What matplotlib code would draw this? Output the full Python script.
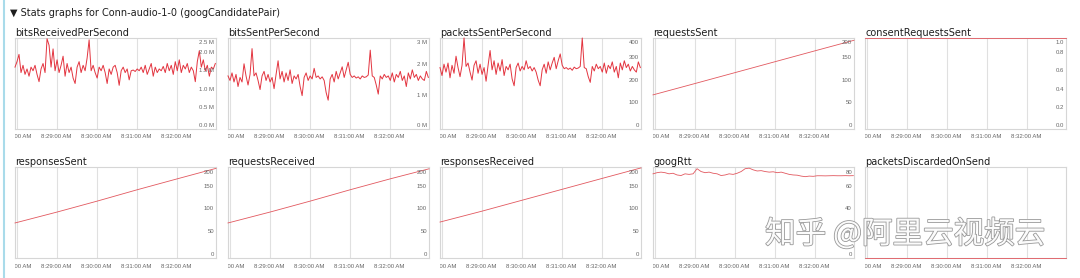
import matplotlib
matplotlib.use('Agg')
import matplotlib.pyplot as plt
import matplotlib.patheffects as pe
from matplotlib import transforms
from matplotlib.lines import Line2D

# x axis: seconds relative to 8:28:00 AM
tick_secs = [0, 60, 120, 180, 240]
tick_labels = ['8:28:00 AM', '8:29:00 AM', '8:30:00 AM', '8:31:00 AM', '8:32:00 AM']
t_start, t_end = -3, 298

# noisy series, one reading every 3 s starting at t_start
bits_received = [1.70, 1.85, 2.05, 1.55, 1.75, 1.50, 1.65, 1.45, 1.70, 1.60,
                 1.75, 1.50, 1.30, 1.65, 1.80, 1.55, 2.48, 2.30, 1.70, 2.20,
                 1.60, 1.90, 1.55, 1.75, 2.00, 1.45, 1.80, 1.55, 1.70, 1.40,
                 1.25, 1.70, 1.85, 1.55, 1.75, 1.60, 1.95, 2.45, 1.60, 1.75,
                 1.55, 1.40, 1.70, 1.60, 1.75, 1.55, 1.25, 1.65, 1.50, 1.70,
                 1.75, 1.55, 1.20, 1.60, 1.70, 1.55, 1.65, 1.35, 1.60, 1.62,
                 1.58, 1.65, 1.60, 1.70, 1.55, 1.75, 1.50, 1.65, 1.80, 1.45,
                 1.70, 1.55, 1.65, 1.60, 1.72, 1.55, 1.80, 1.60, 1.75, 1.50,
                 1.85, 1.60, 1.90, 1.55, 1.75, 1.65, 1.80, 1.55, 1.70, 1.60,
                 1.30, 1.85, 2.15, 1.70, 1.90, 1.60, 1.75, 1.45, 1.70, 1.65,
                 1.80]
bits_sent = [1.75, 1.60, 1.85, 1.55, 1.80, 1.40, 1.70, 1.55, 2.15, 1.75,
             1.45, 1.80, 2.65, 1.75, 1.85, 1.60, 1.30, 1.75, 1.90, 1.60,
             1.80, 1.55, 1.70, 1.33, 1.80, 2.25, 1.65, 1.90, 1.55, 1.85,
             1.60, 1.95, 1.50, 1.75, 1.65, 1.80, 1.40, 1.10, 1.70, 1.85,
             1.60, 1.75, 1.65, 2.00, 1.70, 1.75, 1.65, 1.72, 1.60, 1.20,
             0.95, 1.65, 1.80, 1.55, 1.90, 1.65, 1.85, 2.05, 1.70, 1.95,
             2.20, 1.80, 1.70, 1.75, 1.68, 1.72, 1.65, 1.75, 1.70, 1.72,
             1.78, 2.60, 1.75, 1.70, 1.45, 1.15, 1.75, 1.65, 1.80, 1.70,
             1.75, 1.60, 1.85, 1.55, 1.80, 1.70, 1.90, 1.60, 1.75, 1.40,
             1.85, 1.65, 1.95, 1.70, 1.80, 1.60, 1.75, 1.65, 1.60, 1.90,
             1.70]
packets_sent = [270, 235, 285, 250, 290, 225, 280, 245, 320, 270,
                230, 280, 400, 275, 290, 250, 215, 280, 300, 245,
                285, 240, 270, 210, 280, 345, 260, 300, 240, 290,
                255, 305, 235, 275, 260, 285, 220, 190, 270, 290,
                255, 275, 260, 300, 265, 275, 255, 270, 250, 215,
                190, 260, 285, 245, 295, 260, 290, 315, 265, 300,
                330, 280, 265, 270, 262, 268, 258, 272, 265, 268,
                275, 400, 270, 265, 230, 205, 275, 255, 285, 265,
                275, 250, 290, 245, 280, 265, 295, 250, 275, 225,
                290, 260, 300, 270, 285, 255, 275, 260, 250, 295,
                270]
# googRtt, one reading every 6 s starting at t_start
goog_rtt = [74, 75, 75.5, 75, 74, 74.5, 73, 72.5, 74, 73.5,
            74, 78.5, 76, 75, 75.5, 74.5, 74, 72.5, 73, 74,
            73.5, 74.5, 76, 78.5, 79, 77.5, 76.5, 76.8, 76, 75.5,
            75.8, 75, 75.5, 74.5, 73.5, 73, 72.8, 72, 71.5, 72,
            71.8, 72.3, 72.3, 72.2, 72.3, 72.4, 72.3, 72.3, 72.4, 72.3,
            72.4]

# counters, read at each minute line
counter_secs = [-3, 60, 120, 180, 240, 298]
requests_sent = [75, 100, 124, 148, 172, 195]
responses_sent = [77, 101, 125, 150, 174, 197]
requests_received = [77, 101, 125, 150, 174, 196]
responses_received = [79, 103, 127, 151, 175, 198]
consent_secs = [-3, 298]
consent_requests_sent = [1, 1]
packets_discarded = [0, 0]

RED = '#e3343f'
W, H = 1080, 278
fig = plt.figure(figsize=(10.8, 2.78), dpi=100)
fig.patch.set_facecolor('white')


def secs(n, step):
    return [t_start + step * i for i in range(n)]


def add_panel(left, top, title, times, values, ymax, yticks, ylabels, lw=0.7, color=RED):
    ax = fig.add_axes([left / W, 1 - (top + 91) / H, 201 / W, 91 / H])
    ax.plot(times, values, color=color, lw=lw, clip_on=False, zorder=3)
    ax.set_xlim(t_start, t_end)
    ax.set_ylim(0, ymax)
    ax.set_xticks(tick_secs)
    ax.set_xticklabels([])
    ax.set_yticks([])
    ax.tick_params(length=0)
    ax.grid(axis='x', color='#e0e0e0', lw=0.8)
    for s in ax.spines.values():
        s.set_color('#d6d6d6')
        s.set_linewidth(0.8)

    ax.text(0, 1, title, transform=transforms.offset_copy(ax.transAxes, fig=fig, y=2, units='dots'),
            ha='left', va='baseline', fontsize=7, color='#1e1e1e')

    # y labels sit inside the plot, the top one pushed down to fit
    for v, lab in zip(yticks, ylabels):
        frac = v / ymax
        if frac * 91 + 3.5 <= 86:
            tr = transforms.offset_copy(ax.transAxes, fig=fig, x=-2, y=3.5, units='dots')
            yy = frac
        else:
            tr = transforms.offset_copy(ax.transAxes, fig=fig, x=-2, y=-5, units='dots')
            yy = 1
        ax.text(1, yy, lab, transform=tr, ha='right', va='center', fontsize=4.3,
                family='Liberation Sans', color='#666666')

    # time labels, clipped at the plot's left and right edges
    bb = transforms.TransformedBbox(transforms.Bbox([[0, -0.3], [1, 1]]), ax.transAxes)
    trx = transforms.offset_copy(transforms.blended_transform_factory(ax.transData, ax.transAxes),
                                 fig=fig, x=-1, y=-8, units='dots')
    for t, lab in zip(tick_secs, tick_labels):
        txt = ax.text(t, 0, lab, transform=trx, ha='center', va='center', fontsize=4.3,
                      family='Liberation Sans', color='#666666')
        txt.set_clip_path(None)
        txt.set_clip_box(bb)
        txt.set_clip_on(True)
    return ax


lefts = [15, 228, 440, 653, 865]
tops = [38, 167]
cnt_ticks = [0, 50, 100, 150, 200]
cnt_labels = ['0', '50', '100', '150', '200']
THIN = dict(lw=0.6, color='#e2585f')

add_panel(lefts[0], tops[0], 'bitsReceivedPerSecond', secs(len(bits_received), 3), bits_received,
          2.5, [0, 0.5, 1.0, 1.5, 2.0, 2.5], ['0.0 M', '0.5 M', '1.0 M', '1.5 M', '2.0 M', '2.5 M'])
add_panel(lefts[1], tops[0], 'bitsSentPerSecond', secs(len(bits_sent), 3), bits_sent,
          3, [0, 1, 2, 3], ['0 M', '1 M', '2 M', '3 M'])
add_panel(lefts[2], tops[0], 'packetsSentPerSecond', secs(len(packets_sent), 3), packets_sent,
          400, [0, 100, 200, 300, 400], ['0', '100', '200', '300', '400'])
add_panel(lefts[3], tops[0], 'requestsSent', counter_secs, requests_sent, 200, cnt_ticks, cnt_labels, **THIN)
add_panel(lefts[4], tops[0], 'consentRequestsSent', consent_secs, consent_requests_sent,
          1, [0, 0.2, 0.4, 0.6, 0.8, 1.0], ['0.0', '0.2', '0.4', '0.6', '0.8', '1.0'], **THIN)

add_panel(lefts[0], tops[1], 'responsesSent', counter_secs, responses_sent, 200, cnt_ticks, cnt_labels, **THIN)
add_panel(lefts[1], tops[1], 'requestsReceived', counter_secs, requests_received, 200, cnt_ticks, cnt_labels, **THIN)
add_panel(lefts[2], tops[1], 'responsesReceived', counter_secs, responses_received, 200, cnt_ticks, cnt_labels, **THIN)
add_panel(lefts[3], tops[1], 'googRtt', secs(len(goog_rtt), 6), goog_rtt,
          80, [0, 20, 40, 60, 80], ['0', '20', '40', '60', '80'], **THIN)
add_panel(lefts[4], tops[1], 'packetsDiscardedOnSend', consent_secs, packets_discarded, 1, [], [], **THIN)

# section header
fig.text(10 / W, 1 - 16 / H, '\u25bc Stats graphs for Conn-audio-1-0 (googCandidatePair)',
         ha='left', va='baseline', fontsize=7, color='#1e1e1e')

# light blue border on the left
fig.add_artist(Line2D([3.5 / W, 3.5 / W], [0, 1], transform=fig.transFigure,
                      color='#a9dbea', lw=1.5))

# watermark
fig.text(905 / W, 1 - 234 / H, '知乎 @阿里云视频云', ha='center', va='center', fontsize=22,
         family=['Noto Sans CJK SC', 'DejaVu Sans'], color='#fbfbfb', zorder=10,
         path_effects=[pe.withStroke(linewidth=1.2, foreground='#999999')])

fig.savefig('out.png', dpi=100, facecolor='white')
